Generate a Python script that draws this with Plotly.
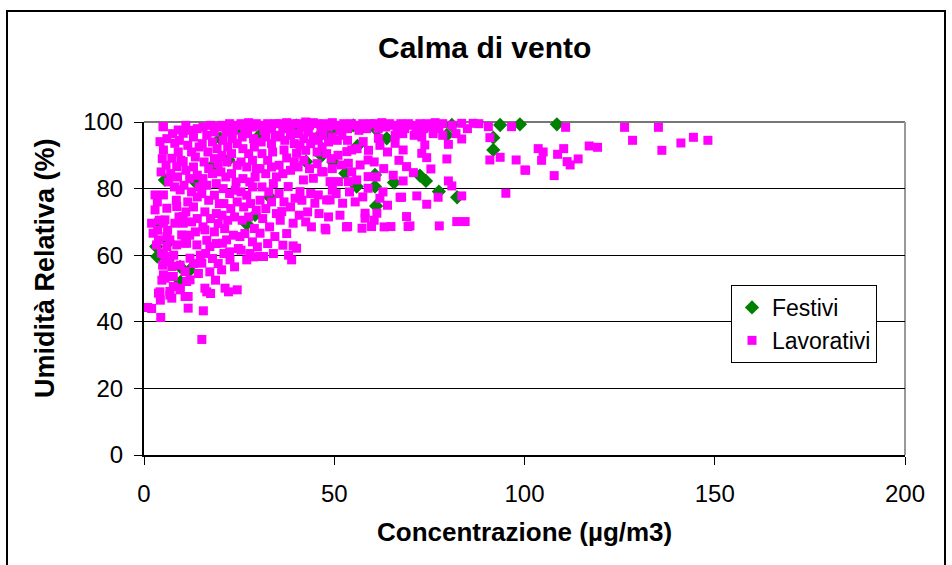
import plotly.graph_objects as go

# ---- data (Concentrazione µg/m3, Umidità Relativa %) ----
lav_0_5 = [(1.0,44.3),(2.0,44.0),(4.4,41.3),(2.0,69.6),(2.4,66.6),(2.9,73.6),(2.9,78.1),(3.3,63.1),(3.8,64.6),(3.8,48.6),
           (4.2,94.1),(4.2,49.0),(4.6,60.6),(4.0,70.5),(3.5,76.0),(4.5,85.0),(4.8,89.0),(3.6,67.5),(4.9,57.0),(4.7,52.5),(4.3,46.5),(5.0,98.6)]
lav_5_10 = [(5.1,98.6),(5.1,91.6),(5.1,78.1),(5.1,69.6),(5.1,60.6),(5.1,54.1),(5.5,70.6),(5.5,59.6),(5.5,53.1),(6.0,74.1),
            (6.0,65.6),(6.0,62.6),(6.8,64.6),(6.8,58.0),(6.8,53.6),(6.8,49.1),(6.8,48.0),(7.3,89.1),(7.3,56.6),(7.3,47.1),
            (7.7,53.6),(7.7,50.6),(8.1,93.6),(8.1,69.6),(8.6,86.6),(8.6,74.6),(8.6,63.1),(9.0,97.6),(9.5,79.6),(9.5,57.0),
            (9.5,50.1),(9.5,49.6),(9.9,66.1),(6.5,82.0),(7.0,84.5),(8.0,80.5),(9.0,91.0),(6.0,95.0),(7.5,96.5),(8.5,76.5),
            (9.2,71.5),(6.2,67.5),(7.8,60.0),(9.7,88.5),(8.8,83.5),(5.8,87.0),(9.3,94.5)]
lav_10_15 = [(10.3,96.6),(10.3,88.1),(10.3,71.6),(10.3,69.6),(10.8,63.6),(10.8,55.1),(10.8,47.6),(11.2,63.6),(11.2,52.1),(11.6,47.6),
             (11.6,44.1),(12.1,59.1),(12.1,52.6),(13.9,63.1),(11.0,99.0),(12.0,97.5),(13.0,95.5),(14.0,98.0),(11.5,93.0),(12.5,91.0),
             (13.5,89.5),(14.5,92.5),(11.0,85.5),(12.0,83.0),(13.0,86.5),(14.0,84.0),(10.5,81.0),(12.5,79.0),(14.5,80.5),(11.5,76.0),
             (13.0,74.5),(14.0,77.5),(11.0,73.0),(12.5,70.0),(14.0,71.0),(13.5,67.0),(12.0,66.0),(14.8,60.0),(13.0,57.5),(14.3,54.5)]
lav_15_20 = [(15.2,57.6),(15.2,34.7),(15.6,43.3),(16.0,67.6),(16.0,50.1),(16.5,49.0),(17.3,62.6),(17.3,55.0),(15.5,98.5),(16.5,96.0),
             (17.5,99.0),(18.5,97.0),(19.5,98.5),(15.3,93.5),(16.8,91.0),(18.0,94.0),(19.2,92.0),(15.8,88.0),(17.0,86.0),(18.5,89.0),
             (19.5,87.5),(15.5,83.0),(16.5,81.0),(18.0,84.5),(19.0,81.5),(15.2,78.5),(17.0,76.5),(18.5,78.0),(19.8,75.5),(16.0,73.0),
             (17.5,71.0),(19.0,72.5),(15.5,68.5),(18.5,67.0),(19.5,69.5),(16.5,64.5),(19.0,63.5),(18.0,59.0),(19.5,57.5),(16.2,60.5),
             (18.8,52.5),(17.5,48.5)]
lav_20_25 = [(20.4,55.6),(20.6,63.6),(21.3,50.1),(21.7,64.6),(22.2,49.0),(22.6,58.6),(24.5,49.6),(25.2,65.6),(20.5,99.0),(21.5,97.0),
             (22.5,99.5),(23.5,97.5),(24.5,99.0),(20.8,94.5),(22.0,92.5),(23.2,95.0),(24.5,93.5),(20.5,90.0),(21.8,88.0),(23.0,90.5),
             (24.5,87.0),(20.2,85.0),(21.5,83.5),(23.0,84.5),(24.2,82.0),(20.8,80.0),(22.5,78.5),(24.0,79.5),(21.0,75.5),(22.8,74.0),
             (24.5,76.0),(20.5,72.0),(22.0,70.5),(23.8,71.5),(21.2,68.0),(23.5,66.0),(24.8,62.0),(22.5,61.0),(23.8,56.5),(21.0,60.5)]
lav_25_30 = [(27.0,58.6),(25.5,99.5),(26.5,98.0),(27.5,99.8),(28.5,98.5),(29.5,99.5),(25.8,95.5),(27.2,96.5),(28.8,95.0),(26.0,92.0),
             (27.5,90.5),(29.0,92.5),(25.5,88.0),(27.0,86.5),(28.5,88.5),(29.5,86.0),(26.0,83.0),(27.8,82.0),(29.2,83.5),(25.5,79.0),
             (27.0,78.0),(28.5,80.5),(26.2,74.5),(28.0,75.5),(29.5,73.5),(25.8,70.5),(27.5,71.5),(29.0,68.0),(26.5,66.5),(28.5,64.0),
             (29.8,62.5),(27.8,60.5),(25.5,61.5),(28.8,59.5)]
lav_30_35 = [(30.5,66.6),(30.5,59.6),(31.4,59.6),(34.4,65.6),(30.5,99.0),(31.5,97.5),(32.5,99.5),(33.5,98.0),(34.5,99.5),(30.8,94.0),
             (32.0,95.5),(33.5,93.5),(34.5,96.0),(31.0,90.5),(32.5,88.5),(33.8,91.0),(30.5,86.0),(32.0,84.5),(33.5,86.5),(34.8,83.5),
             (31.0,80.5),(32.8,79.0),(34.0,81.5),(30.5,76.5),(32.0,74.0),(33.5,76.0),(34.8,72.5),(31.2,71.0),(33.0,68.5),(32.5,63.5),(34.0,60.5)]
lav_35_40 = [(36.8,91.6),(37.5,89.2),(37.9,80.6),(39.7,77.1),(36.2,73.1),(39.2,69.6),(39.2,62.8),(38.8,58.6),(35.5,99.5),(36.5,98.0),
             (37.5,99.8),(38.5,98.5),(39.5,99.5),(35.8,95.5),(37.0,94.5),(38.5,96.0),(39.5,93.5),(35.5,87.0),(36.5,84.5),(38.5,85.5),
             (39.5,88.0),(35.5,78.5),(36.8,76.0),(38.5,74.5),(35.8,70.5),(37.5,66.5),(36.5,63.0),(38.0,60.0)]
lav_40_45 = [(40.1,90.6),(41.9,82.6),(41.0,79.1),(44.5,83.1),(44.9,75.6),(40.1,62.1),(40.5,99.5),(41.5,98.5),(42.5,100.0),(43.5,99.0),
             (44.5,99.8),(40.8,96.5),(42.0,95.0),(43.2,97.0),(44.5,95.5),(41.0,93.0),(42.5,91.5),(43.8,93.5),(40.5,86.5),(42.0,88.5),
             (43.5,86.0),(41.5,76.5),(43.0,73.0),(42.5,70.0),(44.0,68.5),(40.8,72.0),(43.8,78.5)]
lav_45_50 = [(45.8,78.1),(46.7,85.1),(47.1,85.0),(48.0,76.6),(48.9,76.6),(48.9,82.1),(47.6,68.1),(47.8,67.6),(45.5,99.5),(46.5,98.0),
             (47.5,99.5),(48.5,98.5),(49.5,99.8),(45.8,94.5),(47.0,96.0),(48.5,94.0),(49.5,95.5),(45.5,91.0),(46.8,92.5),(48.0,90.5),
             (49.2,89.0),(45.5,87.5),(49.5,86.0),(46.0,72.5),(48.5,71.5),(49.5,79.5)]
lav_50_55 = [(51.1,82.1),(53.7,82.1),(52.2,75.6),(51.9,87.1),(53.7,87.6),(53.3,91.1),(54.6,91.6),(54.6,85.0),(53.2,68.5),(53.5,68.6),
             (50.5,99.0),(51.5,97.5),(52.5,99.5),(53.5,98.0),(54.5,99.5),(50.8,94.5),(52.0,96.0),(53.5,94.5),(51.0,90.0),(50.5,78.5),
             (54.0,79.0),(51.5,72.0)]
lav_55_60 = [(55.9,82.6),(58.9,80.1),(58.1,72.6),(58.1,71.1),(57.3,68.1),(58.9,88.6),(56.8,87.1),(58.9,83.6),(57.6,94.1),(59.8,68.6),
             (55.5,99.0),(56.5,97.5),(57.5,99.5),(58.5,98.0),(59.5,99.5),(56.0,92.0),(59.0,91.5),(55.5,76.0),(57.5,77.5)]
lav_60_65 = [(61.6,95.1),(62.0,77.1),(62.8,79.0),(61.2,72.6),(63.1,68.5),(64.9,68.6),(60.5,99.5),(61.5,98.0),(62.5,99.8),(63.5,98.5),
             (64.5,99.5),(62.0,93.0),(64.0,91.0),(60.5,88.0),(63.0,86.0),(61.0,83.5),(64.0,75.0),(60.5,70.5)]
lav_65_70 = [(66.0,93.6),(68.1,91.6),(69.0,86.6),(67.3,77.4),(67.7,77.4),(69.0,71.6),(69.4,68.6),(69.9,68.8),(68.1,82.3),(65.5,99.0),
             (66.5,97.5),(67.5,99.5),(68.5,98.0),(69.5,99.5),(66.0,96.0),(68.0,96.5),(65.5,84.0),(67.0,88.5)]
lav_70_80 = [(70.8,84.8),(71.7,77.8),(73.0,90.6),(73.8,93.1),(74.3,89.3),(74.3,75.3),(75.4,85.9),(77.3,77.4),(77.6,68.8),(79.6,88.9),
             (70.5,99.0),(71.5,97.5),(72.5,99.5),(73.5,98.0),(74.5,99.5),(75.5,98.5),(76.5,99.8),(77.5,98.0),(78.5,99.5),(71.0,96.0),
             (73.0,95.5),(76.0,96.5),(78.5,96.0)]
lav_80_100 = [(80.0,93.3),(83.5,94.9),(80.0,82.3),(80.9,80.8),(83.5,77.8),(82.2,70.1),(84.4,70.1),(83.5,99.6),(86.5,99.6),(90.5,98.6),
              (96.6,98.6),(90.9,95.3),(90.9,88.6),(93.6,89.4),(97.8,88.6),(100.1,85.6),(95.1,78.6),(81.0,99.0),(85.0,98.0),(88.0,99.5),(82.0,96.5)]
lav_100_150 = [(103.6,92.0),(104.9,91.0),(104.5,88.5),(100.3,85.5),(107.8,83.9),(108.7,90.3),(110.3,92.0),(111.2,88.1),(112.0,87.1),
               (114.1,88.9),(117.0,92.8),(119.2,92.4),(110.8,98.4),(126.3,98.4),(135.2,98.4),(128.4,94.5),(136.1,91.5),(141.1,93.7),
               (144.4,95.4),(148.2,94.5)]

festivi = [(5.5,82.6),(3.5,69.8),(3.2,62.6),(3.5,59.6),(9.5,56.5),(9.6,52.0),(13.4,82.1),(17.8,86.6),(22.2,88.6),(30.5,96.1),
           (33.1,77.4),(29.2,72.1),(27.0,69.4),(42.6,88.1),(46.7,89.9),(48.0,96.6),(46.3,96.1),(50.2,97.6),(49.8,87.9),(52.9,84.6),
           (56.1,92.8),(55.9,80.6),(60.7,84.1),(60.7,80.6),(61.0,74.8),(61.2,97.6),(63.8,95.1),(65.7,81.8),(72.5,83.9),(74.1,82.3),
           (77.5,79.1),(79.6,96.1),(80.9,99.1),(82.3,77.4),(91.8,95.3),(91.8,91.6),(93.6,99.1),(98.8,99.3),(108.5,99.3),(6.5,64.0),
           (12.0,55.5),(20.0,95.0),(25.0,98.0),(40.0,99.0),(55.0,99.0)]

lav_bands = [lav_0_5, lav_5_10, lav_10_15, lav_15_20, lav_20_25, lav_25_30, lav_30_35, lav_35_40, lav_40_45,
             lav_45_50, lav_50_55, lav_55_60, lav_60_65, lav_65_70, lav_70_80, lav_80_100, lav_100_150]
lav_pts = [p for band in lav_bands for p in band]
lav_x = [p[0] for p in lav_pts]
lav_y = [p[1] for p in lav_pts]
fest_x = [p[0] for p in festivi]
fest_y = [p[1] for p in festivi]

x_ticks = [0, 50, 100, 150, 200]
y_ticks = [0, 20, 40, 60, 80, 100]

FONT = "Arial, Liberation Sans, sans-serif"

fig = go.Figure()
fig.add_trace(go.Scatter(x=fest_x, y=fest_y, mode="markers", name="Festivi", cliponaxis=False,
                         marker=dict(symbol="diamond", size=11, color="#008000", line=dict(width=0))))
fig.add_trace(go.Scatter(x=lav_x, y=lav_y, mode="markers", name="Lavorativi", cliponaxis=False,
                         marker=dict(symbol="square", size=9, color="#FF00FF", line=dict(width=0))))

# plot-area frame and chart border
L, R, T, B = 144, 905, 122, 455
def px2x(px):
    return (px - L) / (R - L)
def py2y(py):
    return (B - py) / (B - T)

fig.update_layout(
    width=952, height=565,
    margin=dict(l=L, r=952 - R, t=T, b=565 - B),
    paper_bgcolor="white", plot_bgcolor="white",
    font=dict(family=FONT, color="black"),
    showlegend=True,
    legend=dict(x=px2x(731), y=py2y(285), xanchor="left", yanchor="top",
                bgcolor="white", bordercolor="black", borderwidth=1,
                font=dict(size=23, family=FONT), itemsizing="trace", tracegroupgap=0),
    xaxis=dict(range=[0, 200], tickvals=x_ticks, ticks="outside", ticklen=8, tickcolor="black",
               showline=True, linecolor="black", linewidth=2, showgrid=False, zeroline=False,
               tickfont=dict(size=24, family=FONT), ticklabelstandoff=8),
    yaxis=dict(range=[0, 100], tickvals=y_ticks, ticks="outside", ticklen=8, tickcolor="black",
               showline=True, linecolor="black", linewidth=2, showgrid=True, gridcolor="black",
               gridwidth=1, zeroline=False, tickfont=dict(size=24, family=FONT), ticklabelstandoff=6),
    shapes=[
        dict(type="line", xref="paper", yref="paper", x0=0, x1=1, y0=1, y1=1,
             line=dict(color="#777777", width=2), layer="between"),
        dict(type="line", xref="paper", yref="paper", x0=1, x1=1, y0=0, y1=1,
             line=dict(color="#999999", width=2), layer="between"),
        dict(type="rect", xref="paper", yref="paper", x0=px2x(7), x1=px2x(945), y0=py2y(580), y1=py2y(11),
             line=dict(color="black", width=2), fillcolor="rgba(0,0,0,0)", layer="below"),
    ],
    annotations=[
        dict(text="<b>Calma di vento</b>", xref="paper", yref="paper", x=px2x(484), y=py2y(47),
             showarrow=False, font=dict(size=30, family=FONT), xanchor="center", yanchor="middle"),
        dict(text="<b>Concentrazione (µg/m3)</b>", xref="paper", yref="paper", x=px2x(524), y=py2y(532),
             showarrow=False, font=dict(size=26, family=FONT), xanchor="center", yanchor="middle"),
        dict(text="<b>Umidità Relativa (%)</b>", xref="paper", yref="paper", x=px2x(45), y=py2y(268),
             showarrow=False, textangle=-90, font=dict(size=27, family=FONT), xanchor="center", yanchor="middle"),
    ],
)

fig.write_html("out.html")
